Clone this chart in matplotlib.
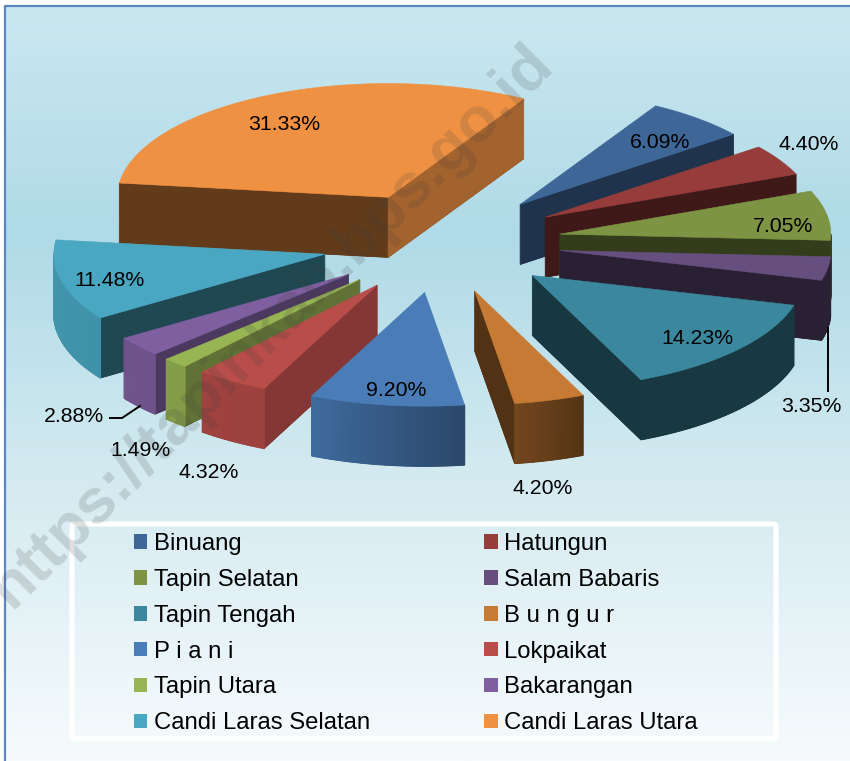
import numpy as np
import matplotlib
matplotlib.use('Agg')
import matplotlib.pyplot as plt
from matplotlib.colors import LinearSegmentedColormap, to_rgb
from matplotlib.patches import FancyBboxPatch, Patch, Polygon

plt.rcParams['font.family'] = ['Liberation Sans', 'DejaVu Sans']

# data
kecamatan = ['Binuang', 'Hatungun', 'Tapin Selatan', 'Salam Babaris', 'Tapin Tengah', 'B u n g u r',
             'P i a n i', 'Lokpaikat', 'Tapin Utara', 'Bakarangan', 'Candi Laras Selatan', 'Candi Laras Utara']
persen = [6.09, 4.40, 7.05, 3.35, 14.23, 4.20, 9.20, 4.32, 1.49, 2.88, 11.48, 31.33]
warna = ['#3E6697', '#963D3B', '#7D9444', '#664F7E', '#3B889E', '#C77A33',
         '#4A7DB8', '#B94D4A', '#98B554', '#7F5F9F', '#49A7C1', '#EF9143']
label_x = [660, 809, 783, 811, 697, 543, 396, 209, 141, 74, 110, 284]
label_y = [142, 145, 226, 406, 339, 489, 390, 473, 451, 416, 281, 125]

# pie geometry in pixels (view from above, no perspective)
CX, CY = 441.5, 242.5
RADIUS = 271
EXPLODE = 120
SQUASH = 0.42
DEPTH = 60
START = 60


def project(x, y):
    return CX + x, CY - y * SQUASH


def shade(color, f):
    return tuple(c * f for c in to_rgb(color))


def cut_shade(normal):
    return np.interp(normal, [-66, -56, -52, -46, -30, -24], [0.41, 0.43, 0.5, 0.6, 0.68, 0.72])


def arc_shade(normal):
    return np.interp(normal, [-190, -140, -114, -81, -66, 0], [0.9, 0.87, 0.85, 0.57, 0.42, 0.42])


def draw_face(ax, p1, p2, color, z, lw=0.6):
    pts = [p1, p2, (p2[0], p2[1] + DEPTH), (p1[0], p1[1] + DEPTH)]
    ax.add_patch(Polygon(pts, closed=True, facecolor=color, edgecolor=color, linewidth=lw, zorder=z))


def draw_slice(ax, a1, a2, color, z):
    # a1 > a2, going clockwise, degrees
    mid = np.radians((a1 + a2) / 2)
    ox, oy = EXPLODE * np.cos(mid), EXPLODE * np.sin(mid)
    ang = np.radians(np.linspace(a1, a2, max(int(abs(a1 - a2)), 2) + 1))
    xs = ox + RADIUS * np.cos(ang)
    ys = oy + RADIUS * np.sin(ang)
    apex = project(ox, oy)
    arc = [project(x, y) for x, y in zip(xs, ys)]

    bottom = [apex] + arc
    bottom = [(p[0], p[1] + DEPTH) for p in bottom]
    base = shade(color, 0.42)
    ax.add_patch(Polygon(bottom, closed=True, facecolor=base, edgecolor=base, linewidth=0.4, zorder=z))

    # cut faces that look at the viewer
    n_start = a1 + 90
    n_end = a2 - 90
    if np.sin(np.radians(n_start)) < 0:
        draw_face(ax, apex, arc[0], shade(color, cut_shade(((n_start + 180) % 360) - 180)), z)
    if np.sin(np.radians(n_end)) < 0:
        draw_face(ax, apex, arc[-1], shade(color, cut_shade(((n_end + 180) % 360) - 180)), z)

    # outer wall
    for i in range(len(arc) - 1):
        normal = np.degrees((ang[i] + ang[i + 1]) / 2)
        if np.sin(np.radians(normal)) < 0:
            wrapped = normal if normal < 0 else normal - 360
            draw_face(ax, arc[i], arc[i + 1], shade(color, arc_shade(wrapped)), z + 0.1, lw=0.9)

    ax.add_patch(Polygon([apex] + arc, closed=True, facecolor=color, edgecolor=color, linewidth=0.4, zorder=z + 0.2))


fig = plt.figure(figsize=(8.5, 7.61), dpi=100)
ax = fig.add_axes([0, 0, 1, 1])

# background
bg = LinearSegmentedColormap.from_list('bg', [(0, '#CBE8F0'), (0.3, '#AFDAE7'), (0.62, '#D3EAF0'), (1, '#F7FBFD')])
ax.imshow(np.linspace(0, 1, 256).reshape(-1, 1), cmap=bg, aspect='auto', extent=(5, 850, 761, 6), zorder=0)
ax.plot([5, 5, 850], [761, 6, 6], color='#5B86C0', lw=1.6, zorder=1)

total = sum(persen)
batas = START - np.cumsum([0] + persen) / total * 360
urutan = sorted(range(len(persen)), key=lambda i: -np.sin(np.radians((batas[i] + batas[i + 1]) / 2)))
for z, i in enumerate(urutan):
    draw_slice(ax, batas[i], batas[i + 1], warna[i], 2 + z)

# leader lines
ax.plot([828, 828], [328, 391], color='black', lw=1.4, zorder=30)
ax.plot([110, 122, 140], [418, 418, 406], color='black', lw=1.4, zorder=30)

for x, y, p in zip(label_x, label_y, persen):
    ax.text(x, y, f'{p:.2f}%', ha='center', va='center', fontsize=15.3, color='black', zorder=31)

# legend box
ax.add_patch(FancyBboxPatch((72, 524), 704, 215, boxstyle='round,pad=0,rounding_size=2', facecolor='none',
                            edgecolor='white', linewidth=3.6, zorder=20))
handles = [Patch(facecolor=c, edgecolor='none') for c in warna]
# matplotlib fills legend by column, reference reads by row
kol = list(range(0, 12, 2)) + list(range(1, 12, 2))
ax.legend([handles[i] for i in kol], [kecamatan[i] for i in kol], ncol=2, frameon=False, fontsize=17.2,
          loc='upper left', bbox_to_anchor=(134 / 850, 1 - 533 / 761), borderpad=0, borderaxespad=0,
          handlelength=0.56, handleheight=0.56, handletextpad=0.27, labelspacing=0.58, columnspacing=4.78).set_zorder(21)

# watermark
ax.text(272, 326, 'https://tapinkab.bps.go.id', rotation=45, rotation_mode='anchor', ha='center', va='center',
        fontsize=45.5, fontweight='bold', color='#3C3C3C', alpha=0.17, zorder=40)

ax.set_xlim(0, 850)
ax.set_ylim(761, 0)
ax.axis('off')
fig.savefig('out.png', dpi=100, facecolor='white')
